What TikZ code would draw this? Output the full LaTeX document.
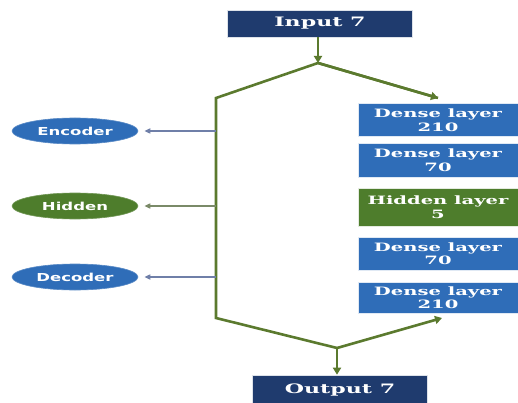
\documentclass[tikz,border=0pt]{standalone}
\usepackage{fontspec}
\usepackage{graphicx}
\usetikzlibrary{shapes.geometric,arrows.meta}
\newfontfamily\boxfont{DejaVu Serif}
\newfontfamily\ellfont{DejaVu Sans}
\newcommand{\wideT}[1]{\scalebox{1.7}[1]{#1}}
\newcommand{\wideE}[1]{\scalebox{1.5}[1]{#1}}
\definecolor{navy}{HTML}{1F3B6E}
\definecolor{denseblue}{HTML}{2F6DB8}
\definecolor{hidgreen}{HTML}{4E7D2C}
\definecolor{linegreen}{HTML}{5B7A2E}
\definecolor{greyblue}{HTML}{6F7FA8}
\definecolor{greygreen}{HTML}{7A8A68}
\begin{document}
\begin{tikzpicture}[x=1pt,y=-1pt,
  layerbox/.style={rectangle, fill=#1, draw=white!85!#1, line width=0.6pt, text=white,
    inner sep=0pt, align=center,
    font=\boxfont\bfseries\fontsize{11.5}{13.5}\selectfont},
  ellbox/.style={ellipse, fill=#1, draw=#1!80!white, line width=0.6pt, text=white, inner sep=0pt,
    minimum width=126pt, minimum height=26pt,
    font=\ellfont\bfseries\fontsize{11}{13}\selectfont},
  gline/.style={draw=linegreen, line width=2.6pt},
  garrow/.style={draw=linegreen, line width=2.6pt, -{Triangle[length=7pt,width=8pt]}},
  sidearrow/.style={draw=#1, line width=1.6pt, -{Triangle[length=6pt,width=5pt]}}
]
\useasboundingbox (0,0) rectangle (518,403);
\fill[white] (0,0) rectangle (518,403);

% boxes
\node[layerbox=navy, minimum width=185pt, minimum height=27pt] (in) at (320,23.5)
  {\fontsize{13}{15}\selectfont\wideT{Input 7}};
\node[layerbox=denseblue, minimum width=160pt, minimum height=33pt] (d1) at (438,120)
  {\wideT{Dense layer}\\\wideT{210}};
\node[layerbox=denseblue, minimum width=160pt, minimum height=34pt] (d2) at (438,160)
  {\wideT{Dense layer}\\\wideT{70}};
\node[layerbox=hidgreen, minimum width=160pt, minimum height=38pt] (hl) at (438,207)
  {\wideT{Hidden layer}\\\wideT{5}};
\node[layerbox=denseblue, minimum width=160pt, minimum height=33pt] (d3) at (438,253.5)
  {\wideT{Dense layer}\\\wideT{70}};
\node[layerbox=denseblue, minimum width=160pt, minimum height=31pt] (d4) at (438,297.5)
  {\wideT{Dense layer}\\\wideT{210}};
\node[layerbox=navy, minimum width=175pt, minimum height=30pt] (out) at (340,390)
  {\fontsize{13}{15}\selectfont\wideT{Output 7}};

% ellipses
\node[ellbox=denseblue] (enc) at (75,131) {\wideE{Encoder}};
\node[ellbox=hidgreen] (hid) at (75,206) {\wideE{Hidden}};
\node[ellbox=denseblue] (dec) at (75,277) {\wideE{Decoder}};

% coordinates
\coordinate (top) at (318,63);
\coordinate (lt) at (216,98);
\coordinate (lb) at (216,318);
\coordinate (bot) at (337,348);
\coordinate (rt) at (438,98);
\coordinate (rb) at (442,318);
\coordinate (ae) at (216,131);
\coordinate (ah) at (216,206);
\coordinate (ad) at (216,277);

% connectors
\draw[garrow] (in.south -| top) -- (top);
\draw[gline, line join=miter] (rt) -- (top) -- (lt) -- (lb) -- (bot);
\draw[garrow] (top) -- (rt);
\draw[garrow] (bot) -- (rb);
\draw[garrow] (bot) -- (bot |- out.north);

\draw[sidearrow=greyblue] (ae) -- ([xshift=6pt]enc.east);
\draw[sidearrow=greygreen] (ah) -- ([xshift=6pt]hid.east);
\draw[sidearrow=greyblue] (ad) -- ([xshift=6pt]dec.east);
\end{tikzpicture}
\end{document}
